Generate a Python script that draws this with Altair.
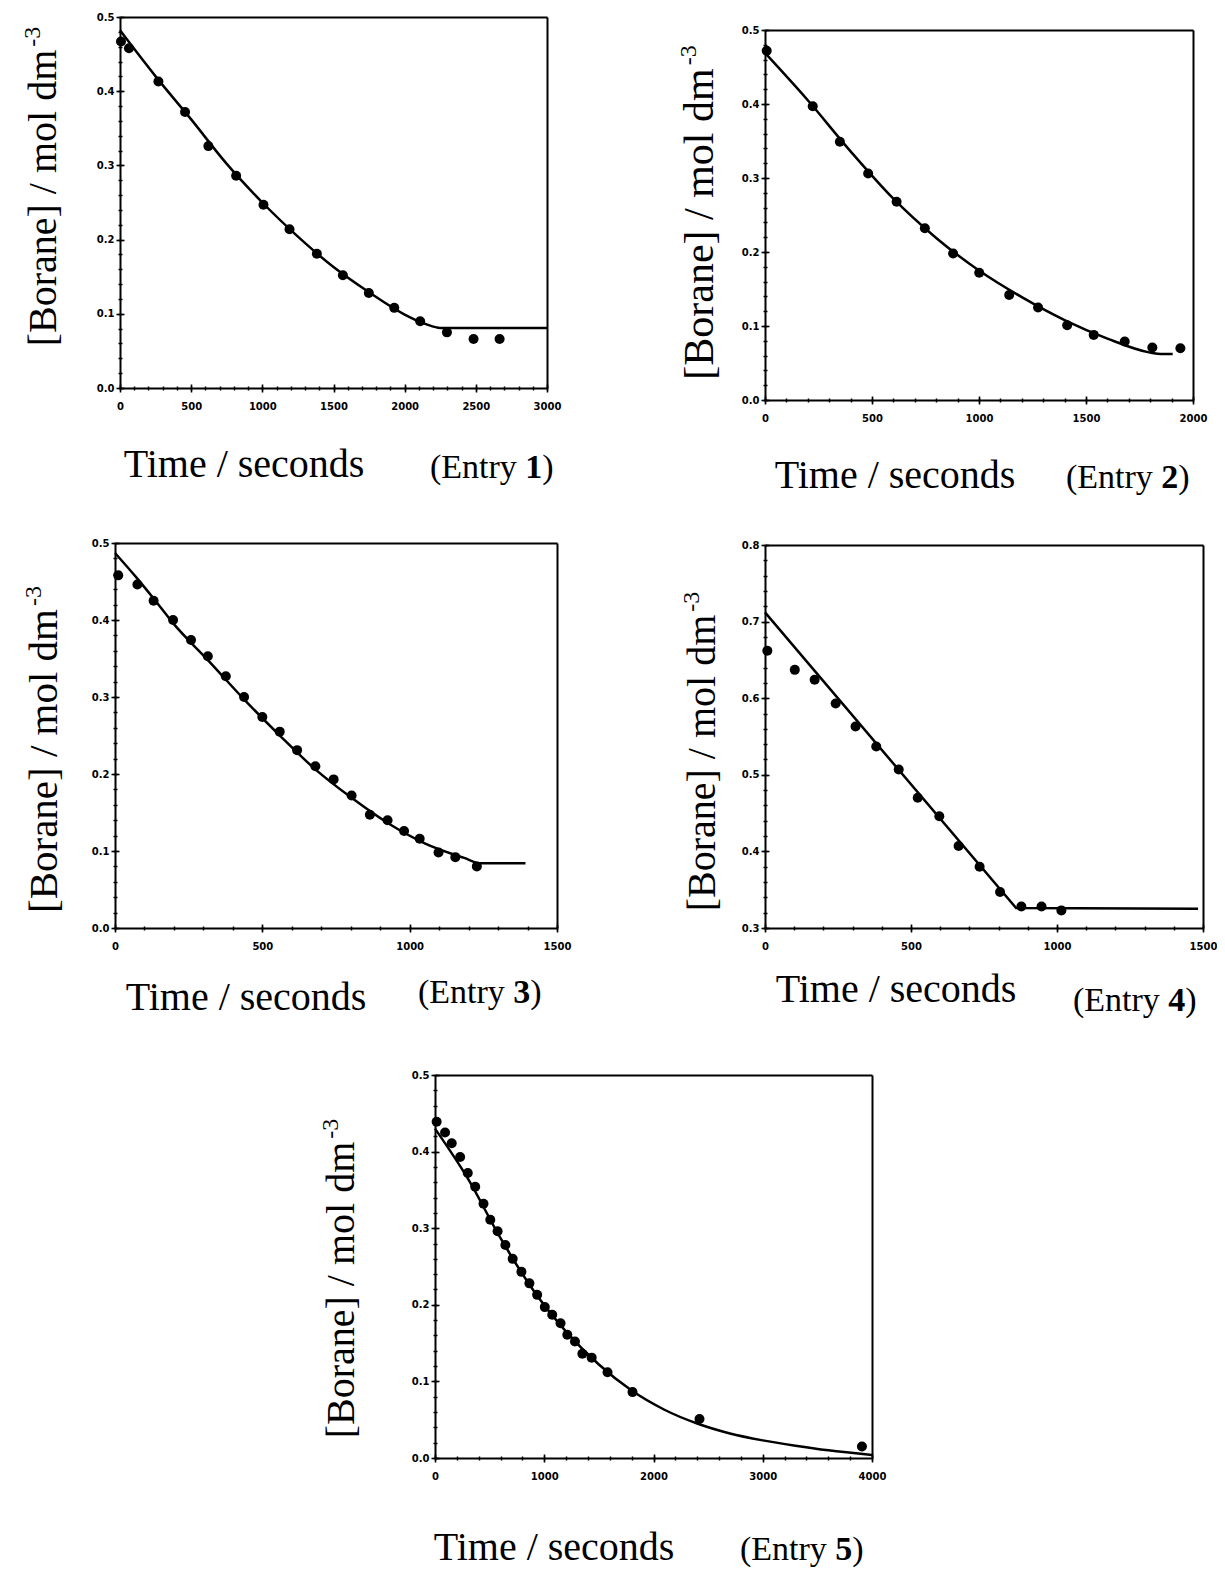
import altair as alt
import pandas as pd

# ---------------- data ----------------
# Entry 1
t1 = [7, 63, 270, 457, 621, 816, 1008, 1191, 1383, 1566, 1748, 1927, 2109, 2297, 2484, 2667]
c1 = [0.467, 0.458, 0.413, 0.372, 0.326, 0.286, 0.247, 0.214, 0.181, 0.152, 0.128, 0.108, 0.090, 0.075, 0.066, 0.066]
ft1 = [0, 250, 500, 750, 1000, 1250, 1500, 1750, 2000, 2150, 2250, 3000]
fc1 = [0.482, 0.420, 0.362, 0.302, 0.250, 0.204, 0.163, 0.129, 0.099, 0.086, 0.081, 0.081]

# Entry 2
t2 = [8, 223, 350, 482, 615, 747, 879, 1001, 1141, 1276, 1412, 1536, 1681, 1810, 1941]
c2 = [0.472, 0.397, 0.349, 0.306, 0.268, 0.232, 0.198, 0.172, 0.142, 0.125, 0.101, 0.088, 0.079, 0.071, 0.070]
ft2 = [0, 200, 400, 600, 800, 1000, 1200, 1400, 1600, 1800, 1850, 1905]
fc2 = [0.469, 0.405, 0.336, 0.272, 0.219, 0.175, 0.139, 0.108, 0.083, 0.064, 0.062, 0.062]

# Entry 3
t3 = [11, 76, 131, 197, 258, 315, 376, 438, 500, 559, 618, 680, 742, 803, 865, 925, 981, 1034, 1098, 1155, 1228]
c3 = [0.458, 0.446, 0.425, 0.400, 0.374, 0.353, 0.327, 0.300, 0.274, 0.255, 0.231, 0.210, 0.193, 0.172, 0.147,
      0.140, 0.126, 0.116, 0.098, 0.092, 0.080]
ft3 = [0, 73, 135, 197, 320, 438, 562, 680, 803, 927, 1051, 1185, 1242, 1393]
fc3 = [0.487, 0.455, 0.426, 0.396, 0.346, 0.297, 0.249, 0.206, 0.169, 0.136, 0.110, 0.091, 0.084, 0.084]

# Entry 4
t4 = [8, 102, 170, 242, 310, 381, 458, 523, 597, 663, 735, 805, 878, 947, 1015]
c4 = [0.662, 0.637, 0.624, 0.593, 0.563, 0.537, 0.507, 0.470, 0.446, 0.407, 0.380, 0.347, 0.328, 0.328, 0.323]
ft4 = [0, 860, 1483]
fc4 = [0.712, 0.326, 0.325]

# Entry 5
t5 = [15, 92, 153, 230, 300, 368, 444, 506, 573, 644, 711, 791, 864, 935, 1005, 1073, 1149, 1211, 1281, 1349,
      1434, 1579, 1808, 2421, 3908]
c5 = [0.439, 0.425, 0.411, 0.393, 0.372, 0.354, 0.332, 0.311, 0.296, 0.278, 0.260, 0.243, 0.228, 0.213, 0.197,
      0.187, 0.176, 0.161, 0.152, 0.136, 0.131, 0.112, 0.086, 0.051, 0.015]
ft5 = [0, 300, 600, 900, 1200, 1500, 1800, 2100, 2400, 2700, 3000, 3300, 3600, 4000]
fc5 = [0.430, 0.365, 0.287, 0.219, 0.165, 0.122, 0.088, 0.063, 0.045, 0.032, 0.023, 0.016, 0.010, 0.004]

# tick values
x_major1 = [0, 500, 1000, 1500, 2000, 2500, 3000]
x_major2 = [0, 500, 1000, 1500, 2000]
x_major3 = [0, 500, 1000, 1500]
x_major5 = [0, 1000, 2000, 3000, 4000]
y_major = [0.0, 0.1, 0.2, 0.3, 0.4, 0.5]
y_major4 = [0.3, 0.4, 0.5, 0.6, 0.7, 0.8]

X_TITLE = "Time / seconds"
Y_TITLE = "[Borane] / mol dm"
Y_SUP = "-3"
ENTRY_NUMS = ["1", "2", "3", "4", "5"]

SERIF = "Liberation Serif"
SANS = "DejaVu Sans"

W, H = 1209, 1565  # whole canvas (plot area = canvas, autosize none)


def minor_vals(lo, hi, step):
    n = int(round((hi - lo) / step))
    return [round(lo + i * step, 4) for i in range(n + 1)]


def txt(text, x, y, size, weight="normal", angle=0, align="left", baseline="alphabetic"):
    return alt.Chart(pd.DataFrame({"a": [0]})).mark_text(
        text=text, font=SERIF, fontSize=size, fontWeight=weight, angle=angle,
        align=align, baseline=baseline, color="black"
    ).encode(x=alt.value(x), y=alt.value(y))


def frame_axis(orient, offset):
    return alt.Axis(orient=orient, offset=offset, domain=True, domainColor="black", domainWidth=2,
                    ticks=False, labels=False, grid=False, title=None)


def panel(t, c, ft, fc, xdom, ydom, xmaj, xminstep, ymaj, xr, yr, num,
          time_pos, entry_pos, yt_pos, yfs, interp="monotone"):
    pts = pd.DataFrame({"t": t, "c": c})
    fit = pd.DataFrame({"t": ft, "c": fc})
    xl, xright = xr
    yb, ytop = yr
    xs = alt.Scale(domain=xdom, range=[xl, xright], nice=False, zero=False)
    ys = alt.Scale(domain=ydom, range=[yb, ytop], nice=False, zero=False)

    major_x = alt.Axis(values=xmaj, orient="bottom", offset=yb - 4 - H, domain=False, grid=False, title=None,
                       format="d", tickSize=8, tickWidth=1.6, tickColor="black",
                       labelFont=SANS, labelFontWeight="bold", labelFontSize=10, labelColor="black",
                       labelPadding=9, labelFlush=False, labelOverlap=False)
    major_y = alt.Axis(values=ymaj, orient="left", offset=-(xl + 4), domain=False, grid=False, title=None,
                       format=".1f", tickSize=8, tickWidth=1.6, tickColor="black",
                       labelFont=SANS, labelFontWeight="bold", labelFontSize=10, labelColor="black",
                       labelPadding=2, labelFlush=False, labelOverlap=False)
    minor_x = alt.Axis(values=minor_vals(xdom[0], xdom[1], xminstep), orient="bottom", offset=yb - 2 - H,
                       domain=False, grid=False, title=None, labels=False, tickSize=4, tickWidth=1.5,
                       tickColor="black")
    minor_y = alt.Axis(values=minor_vals(ydom[0], ydom[1], 0.02), orient="left", offset=-(xl + 2),
                       domain=False, grid=False, title=None, labels=False, tickSize=4, tickWidth=1.5,
                       tickColor="black")

    frame_bl = alt.Chart(fit).mark_point(opacity=0).encode(
        x=alt.X("t:Q", scale=xs, axis=frame_axis("bottom", yb - H)),
        y=alt.Y("c:Q", scale=ys, axis=frame_axis("left", -xl)),
    )
    frame_tr = alt.Chart(fit).mark_point(opacity=0).encode(
        x=alt.X("t:Q", scale=xs, axis=frame_axis("top", -ytop)),
        y=alt.Y("c:Q", scale=ys, axis=frame_axis("right", xright - W)),
    )
    line = alt.Chart(fit).mark_line(color="black", strokeWidth=2.5, interpolate=interp).encode(
        x=alt.X("t:Q", scale=xs, axis=minor_x),
        y=alt.Y("c:Q", scale=ys, axis=minor_y),
    )
    points = alt.Chart(pts).mark_circle(size=100, color="black", opacity=1).encode(
        x=alt.X("t:Q", scale=xs, axis=major_x),
        y=alt.Y("c:Q", scale=ys, axis=major_y),
    )
    body = alt.layer(frame_bl, frame_tr, line, points).resolve_axis(x="independent", y="independent")

    efs = 34
    ex, ey = entry_pos
    texts = [
        txt(X_TITLE, time_pos[0], time_pos[1], 40, align="center"),
        txt("(Entry", ex, ey, efs),
        txt(num, ex + 2.805 * efs, ey, efs, weight="bold"),
        txt(")", ex + 3.305 * efs, ey, efs),
        txt(Y_TITLE, yt_pos[0], yt_pos[1], yfs, angle=270, align="center", baseline="middle"),
        txt(Y_SUP, yt_pos[0] - 11, yt_pos[1] - 3.708 * yfs - 13, 24, angle=270, align="center",
            baseline="middle"),
    ]
    return [body] + texts


# plot-area pixel ranges on the canvas (x: left,right ; y: bottom,top)
p1 = panel(t1, c1, ft1, fc1, [0, 3000], [0, 0.5], x_major1, 100, y_major, [112, 539], [380, 9],
           ENTRY_NUMS[0], (236, 469), (422, 470), (36, 190), 40)
p2 = panel(t2, c2, ft2, fc2, [0, 2000], [0, 0.5], x_major2, 100, y_major, [757, 1185], [392, 22],
           ENTRY_NUMS[1], (887, 480), (1058, 480), (692, 216), 42)
p3 = panel(t3, c3, ft3, fc3, [0, 1500], [0, 0.5], x_major3, 100, y_major, [107, 549], [920, 535],
           ENTRY_NUMS[2], (238, 1002), (410, 995), (37, 753), 41)
p4 = panel(t4, c4, ft4, fc4, [0, 1500], [0.3, 0.8], x_major3, 100, y_major4, [757, 1195], [920, 537],
           ENTRY_NUMS[3], (888, 994), (1065, 1003), (695, 755), 40, interp="linear")
p5 = panel(t5, c5, ft5, fc5, [0, 4000], [0, 0.5], x_major5, 200, y_major, [427, 864], [1450, 1067],
           ENTRY_NUMS[4], (546, 1552), (732, 1552), (334, 1282), 40)

layers = p1 + p2 + p3 + p4 + p5

chart = alt.layer(*layers).resolve_scale(x="independent", y="independent").resolve_axis(
    x="independent", y="independent"
).properties(
    width=W, height=H, autosize=alt.AutoSizeParams(type="none"), padding=0
).configure_view(stroke="transparent")

chart.save("out.html", embed_options={"renderer": "svg", "actions": False})
